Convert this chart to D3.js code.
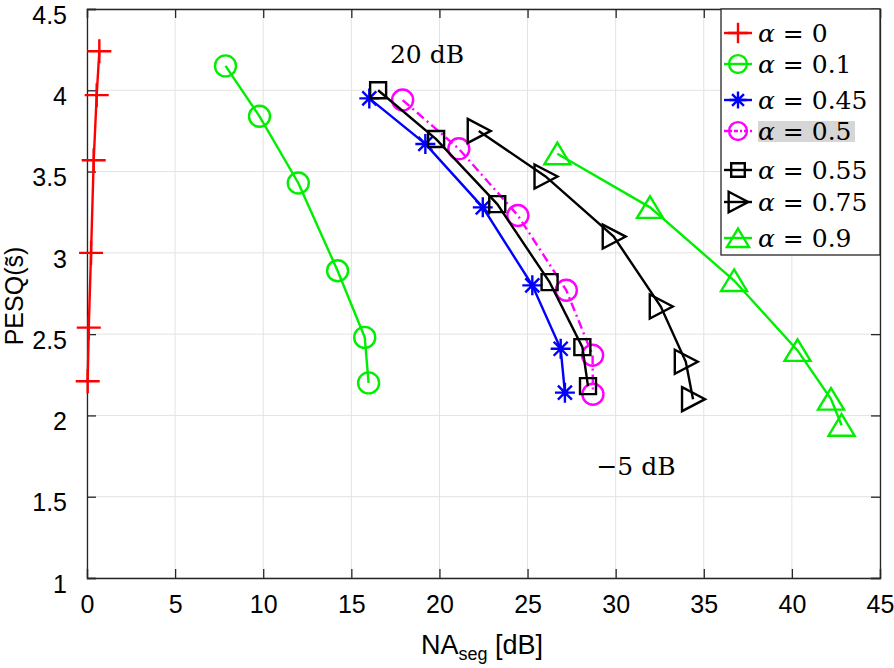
<!DOCTYPE html>
<html>
<head>
<meta charset="utf-8">
<script src="https://cdn.jsdelivr.net/npm/d3@7"></script>
<style>
  body { margin: 0; background: #fff; }
  svg { display: block; }
</style>
</head>
<body>
<div id="chart"></div>
<script>
// values
const alphaLabels = ["0", "0.1", "0.45", "0.5", "0.55", "0.75", "0.9"];

const naA0   = [0.70, 0.55, 0.38, 0.23, 0.10, 0.04];
const pesqA0 = [4.24, 3.97, 3.57, 3.00, 2.54, 2.21];

const naA01   = [7.86, 9.79, 11.99, 14.22, 15.76, 15.98];
const pesqA01 = [4.15, 3.84, 3.43, 2.89, 2.48, 2.20];

const naA045   = [16.02, 19.20, 22.46, 25.27, 26.88, 27.12];
const pesqA045 = [3.95, 3.67, 3.28, 2.80, 2.41, 2.14];

const naA05   = [17.91, 21.10, 24.45, 27.20, 28.69, 28.71];
const pesqA05 = [3.94, 3.64, 3.23, 2.77, 2.37, 2.13];

const naA055   = [16.52, 19.81, 23.28, 26.25, 28.11, 28.43];
const pesqA055 = [4.00, 3.70, 3.30, 2.82, 2.42, 2.18];

const naA075   = [22.23, 26.02, 29.89, 32.56, 33.98, 34.39];
const pesqA075 = [3.75, 3.47, 3.10, 2.67, 2.33, 2.10];

const naA09   = [26.69, 31.95, 36.72, 40.32, 42.22, 42.82];
const pesqA09 = [3.61, 3.28, 2.83, 2.40, 2.10, 1.94];

const xTicks = [0, 5, 10, 15, 20, 25, 30, 35, 40, 45];
const yTicks = [1, 1.5, 2, 2.5, 3, 3.5, 4, 4.5];

const width = 894, height = 668;
const margin = { top: 9, right: 14, bottom: 90, left: 87 };
const innerW = width - margin.left - margin.right;
const innerH = height - margin.top - margin.bottom;

const series = [
  { label: alphaLabels[0], x: naA0,   y: pesqA0,   color: "#ff0000", marker: "plus" },
  { label: alphaLabels[1], x: naA01,  y: pesqA01,  color: "#00ee00", marker: "circle" },
  { label: alphaLabels[2], x: naA045, y: pesqA045, color: "#0000ff", marker: "star" },
  { label: alphaLabels[3], x: naA05,  y: pesqA05,  color: "#ff00ff", marker: "circle", dash: "9,4,2,4" },
  { label: alphaLabels[4], x: naA055, y: pesqA055, color: "#000000", marker: "square" },
  { label: alphaLabels[5], x: naA075, y: pesqA075, color: "#000000", marker: "triRight" },
  { label: alphaLabels[6], x: naA09,  y: pesqA09,  color: "#00ee00", marker: "triUp" }
];

// marker paths, centred on 0,0
const markerPath = {
  plus: "M-12,0H12M0,-12V12",
  circle: "M10.5,0A10.5,10.5 0 1,1 -10.5,0A10.5,10.5 0 1,1 10.5,0Z",
  star: "M-10,0H10M0,-10V10M-7,-7L7,7M-7,7L7,-7",
  square: "M-8,-8H8V8H-8Z",
  triRight: "M-11,-12L12,0L-11,12Z",
  triUp: "M0,-11L13,10.5H-13Z"
};

const svg = d3.select("#chart")
  .append("svg")
    .attr("width", width)
    .attr("height", height);

const x = d3.scaleLinear().domain([0, 45]).range([0, innerW]);
const y = d3.scaleLinear().domain([1, 4.5]).range([innerH, 0]);

const g = svg.append("g")
  .attr("transform", `translate(${margin.left},${margin.top})`);

// grid
g.append("g")
  .selectAll("line")
  .data(xTicks)
  .join("line")
    .attr("x1", d => x(d)).attr("x2", d => x(d))
    .attr("y1", 0).attr("y2", innerH)
    .attr("stroke", "#e3e3e3").attr("stroke-width", 1);
g.append("g")
  .selectAll("line")
  .data(yTicks)
  .join("line")
    .attr("x1", 0).attr("x2", innerW)
    .attr("y1", d => y(d)).attr("y2", d => y(d))
    .attr("stroke", "#e3e3e3").attr("stroke-width", 1);

// axes with inward ticks on all four sides
const tickFont = "'Liberation Sans', Arial, sans-serif";
const axisColor = "#262626";

const xAxis = g.append("g")
  .attr("transform", `translate(0,${innerH})`)
  .call(d3.axisBottom(x).tickValues(xTicks).tickSize(-9).tickPadding(22).tickFormat(d3.format("")));
const yAxis = g.append("g")
  .call(d3.axisLeft(y).tickValues(yTicks).tickSize(-9).tickPadding(20).tickFormat(d3.format("")));
const xTop = g.append("g")
  .call(d3.axisTop(x).tickValues(xTicks).tickSize(-9).tickFormat(""));
const yRight = g.append("g")
  .attr("transform", `translate(${innerW},0)`)
  .call(d3.axisRight(y).tickValues(yTicks).tickSize(-9).tickFormat(""));

[xAxis, yAxis, xTop, yRight].forEach(a => {
  a.select(".domain").attr("stroke", axisColor).attr("stroke-width", 1.3);
  a.selectAll(".tick line").attr("stroke", axisColor).attr("stroke-width", 1.3);
  a.selectAll("text")
    .attr("fill", "#000")
    .style("font-family", tickFont)
    .style("font-size", "25px");
});
xAxis.selectAll("text").attr("dy", "0.5em");
yAxis.selectAll("text").attr("dy", "0.57em");

// lines + markers
const lineGen = d3.line()
  .x(d => x(d[0]))
  .y(d => y(d[1]));

series.forEach(s => {
  const pts = s.x.map((v, i) => [v, s.y[i]]);
  g.append("path")
    .datum(pts)
    .attr("d", lineGen)
    .attr("fill", "none")
    .attr("stroke", s.color)
    .attr("stroke-width", 2.4)
    .attr("stroke-dasharray", s.dash || null);
  g.append("g")
    .selectAll("path")
    .data(pts)
    .join("path")
      .attr("transform", d => `translate(${x(d[0])},${y(d[1])})`)
      .attr("d", markerPath[s.marker])
      .attr("fill", "none")
      .attr("stroke", s.color)
      .attr("stroke-width", 2.4);
});

// annotations
const serif = "'DejaVu Serif', 'Liberation Serif', serif";
svg.append("text")
  .attr("x", 427).attr("y", 63)
  .attr("text-anchor", "middle")
  .style("font-family", serif).style("font-size", "25px")
  .text("20 dB");
svg.append("text")
  .attr("x", 636).attr("y", 475)
  .attr("text-anchor", "middle")
  .style("font-family", serif).style("font-size", "25px")
  .text("\u22125 dB");

// axis titles
const xTitle = svg.append("text")
  .attr("x", 482).attr("y", 654)
  .attr("text-anchor", "middle")
  .style("font-family", tickFont).style("font-size", "27px");
xTitle.append("tspan").text("NA");
xTitle.append("tspan").attr("dy", 6).style("font-size", "18px").text("seg");
xTitle.append("tspan").attr("dy", -6).text(" [dB]");

svg.append("text")
  .attr("transform", "translate(23,296) rotate(-90)")
  .attr("text-anchor", "middle")
  .style("font-family", tickFont).style("font-size", "25px")
  .text("PESQ(s\u0303)");

// legend
const legX = 721, legY = 9, legW = 880 - 721, legH = 246;
const legendRows = [33, 64, 100, 131, 170, 202, 238];

const legend = svg.append("g");
legend.append("rect")
  .attr("x", legX).attr("y", legY)
  .attr("width", legW).attr("height", legH)
  .attr("fill", "#fff")
  .attr("stroke", axisColor).attr("stroke-width", 1.3);

// grey highlight behind α = 0.5
legend.append("rect")
  .attr("x", 758).attr("y", legendRows[3] - 10)
  .attr("width", 97).attr("height", 21)
  .attr("fill", "#d6d6d6");

series.forEach((s, i) => {
  const ry = legendRows[i];
  const row = legend.append("g");
  row.append("line")
    .attr("x1", 724).attr("x2", 752)
    .attr("y1", ry).attr("y2", ry)
    .attr("stroke", s.color).attr("stroke-width", 2.4)
    .attr("stroke-dasharray", s.dash ? "4,2,2,2" : null);
  row.append("path")
    .attr("transform", `translate(738,${ry}) scale(0.85)`)
    .attr("d", markerPath[s.marker])
    .attr("fill", "none")
    .attr("stroke", s.color)
    .attr("stroke-width", 2.4 / 0.85);
  const t = row.append("text")
    .attr("x", 758).attr("y", ry + 9)
    .style("font-family", serif).style("font-size", "25px");
  t.append("tspan").style("font-style", "italic").text("\u03b1");
  t.append("tspan").text(" = " + s.label);
});
</script>
</body>
</html>
